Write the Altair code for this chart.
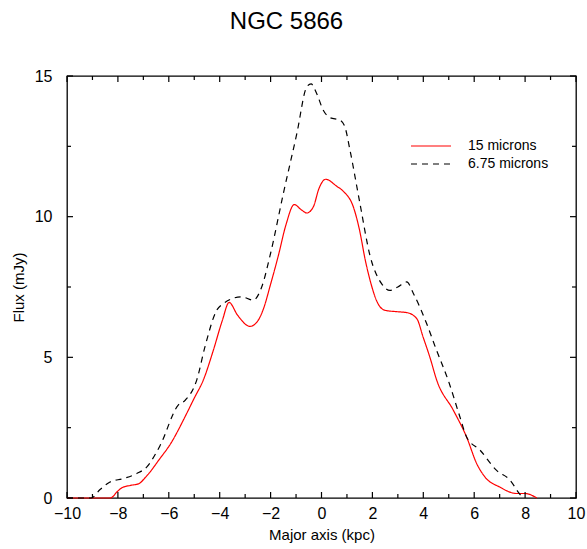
import altair as alt
import pandas as pd

# 15 micron profile along the major axis (kpc, mJy)
x15 = [-10.0, -8.3, -8.0, -7.85, -7.5, -7.2, -6.9, -6.35, -5.95, -5.3, -5.0, -4.64,
       -4.25, -3.9, -3.63, -3.3, -2.81, -2.5, -2.29, -2.0, -1.7, -1.4, -1.07, -0.8,
       -0.58, -0.32, -0.1, 0.16, 0.6, 0.86, 1.25, 1.5, 1.71, 1.95, 2.17, 2.5, 3.0,
       3.35, 3.74, 4.0, 4.26, 4.53, 5.18, 5.7, 6.1, 6.42, 7.0, 7.67, 8.0, 8.46]
f15 = [0.0, 0.0, 0.25, 0.36, 0.45, 0.5, 0.75, 1.4, 1.9, 3.0, 3.55, 4.2,
       5.25, 6.3, 6.95, 6.5, 6.1, 6.3, 6.7, 7.6, 8.6, 9.7, 10.43, 10.25,
       10.13, 10.35, 11.0, 11.33, 11.08, 10.9, 10.35, 9.5, 8.5, 7.6, 7.0, 6.67, 6.62,
       6.59, 6.38, 5.7, 5.0, 4.18, 3.12, 2.17, 1.22, 0.75, 0.39, 0.16, 0.16, 0.0]

# 6.75 micron profile
x675 = [-10.0, -9.05, -8.7, -8.31, -7.79, -7.26, -6.87, -6.35, -5.63, -5.36, -4.9,
        -4.58, -4.12, -3.86, -3.14, -2.68, -2.35, -2.0, -1.5, -0.97, -0.58, -0.41,
        -0.19, 0.07, 0.33, 0.73, 0.92, 1.12, 1.51, 1.91, 2.36, 2.69, 3.0, 3.35, 3.61,
        4.13, 4.5, 4.98, 5.44, 5.7, 6.23, 6.88, 7.41, 7.73, 7.9]
f675 = [0.0, 0.0, 0.3, 0.57, 0.69, 0.87, 1.1, 1.85, 3.3, 3.47, 4.2,
        5.37, 6.67, 6.91, 7.15, 7.03, 7.5, 8.7, 10.82, 12.95, 14.61, 14.72,
        14.38, 13.78, 13.52, 13.43, 13.19, 12.36, 10.47, 8.6, 7.62, 7.38, 7.5, 7.68, 7.27,
        6.2, 5.3, 4.18, 2.88, 2.17, 1.7, 0.98, 0.63, 0.21, 0.0]

series_names = ["15 microns", "6.75 microns"]

x_labels = [-10, -8, -6, -4, -2, 0, 2, 4, 6, 8, 10]
x_minor = [-9, -7, -5, -3, -1, 1, 3, 5, 7, 9]
y_labels = [0, 5, 10, 15]
y_minor = [2.5, 7.5, 12.5]

W, H = 509, 422
FONT = "Liberation Sans"

df = pd.concat([
    pd.DataFrame({"x": x15, "flux": f15, "band": series_names[0], "order": range(len(x15))}),
    pd.DataFrame({"x": x675, "flux": f675, "band": series_names[1], "order": range(len(x675))}),
])

xscale = alt.Scale(domain=[-10, 10], nice=False, zero=False)
yscale = alt.Scale(domain=[0, 15], nice=False)

lines = alt.Chart(df).mark_line(strokeWidth=1.2, interpolate="monotone").encode(
    x=alt.X("x:Q", scale=xscale, title="Major axis (kpc)",
            axis=alt.Axis(values=x_labels, ticks=False, tickSize=0, domain=False, grid=False,
                          labelFontSize=16, labelFont=FONT, labelPadding=7, labelColor="black",
                          titleFontSize=15, titleFont=FONT, titleFontWeight="normal",
                          titlePadding=6, titleColor="black", labelFlush=False)),
    y=alt.Y("flux:Q", scale=yscale, title="Flux (mJy)",
            axis=alt.Axis(values=y_labels, ticks=False, tickSize=0, domain=False, grid=False,
                          labelFontSize=16, labelFont=FONT, labelPadding=15, labelColor="black",
                          titleFontSize=15, titleFont=FONT, titleFontWeight="normal",
                          titlePadding=8, titleColor="black", labelFlush=False)),
    color=alt.Color("band:N", scale=alt.Scale(domain=series_names, range=["#ff0000", "#000000"]),
                    legend=alt.Legend(title=None)),
    strokeDash=alt.StrokeDash("band:N", scale=alt.Scale(domain=series_names, range=[[1, 0], [6, 5]]),
                              legend=alt.Legend(title=None)),
    order="order:Q",
)

# inward tick marks on all four sides of the frame
def xticks(vals, length):
    d = pd.DataFrame({"x": vals})
    bottom = alt.Chart(d).mark_rule(color="black", strokeWidth=1.2).encode(
        x=alt.X("x:Q", scale=xscale), y=alt.value(H), y2=alt.value(H - length))
    top = alt.Chart(d).mark_rule(color="black", strokeWidth=1.2).encode(
        x=alt.X("x:Q", scale=xscale), y=alt.value(0), y2=alt.value(length))
    return bottom + top


def yticks(vals, length):
    d = pd.DataFrame({"flux": vals})
    left = alt.Chart(d).mark_rule(color="black", strokeWidth=1.2).encode(
        y=alt.Y("flux:Q", scale=yscale), x=alt.value(0), x2=alt.value(length))
    right = alt.Chart(d).mark_rule(color="black", strokeWidth=1.2).encode(
        y=alt.Y("flux:Q", scale=yscale), x=alt.value(W), x2=alt.value(W - length))
    return left + right


chart = alt.layer(
    lines,
    xticks(x_labels, 6), xticks(x_minor, 4),
    yticks(y_labels, 6), yticks(y_minor, 4),
).properties(
    width=W, height=H,
    title=alt.TitleParams("NGC 5866", fontSize=24, font=FONT, fontWeight="normal",
                          color="black", anchor="middle", frame="group",
                          dx=-35, offset=15, baseline="alphabetic"),
    autosize=alt.AutoSizeParams(type="none"),
    padding={"left": 67, "top": 76, "right": 11, "bottom": 51},
).configure_view(
    stroke="black", strokeWidth=1.3
).configure_legend(
    orient="none", legendX=357, legendY=63,
    symbolType="M-4,0H4", symbolSize=100, symbolStrokeWidth=1.2,
    labelFontSize=14, labelFont=FONT, labelColor="black", labelOffset=30,
    rowPadding=4, padding=0,
)

chart.save("out.html", embed_options={"renderer": "svg", "actions": False})
